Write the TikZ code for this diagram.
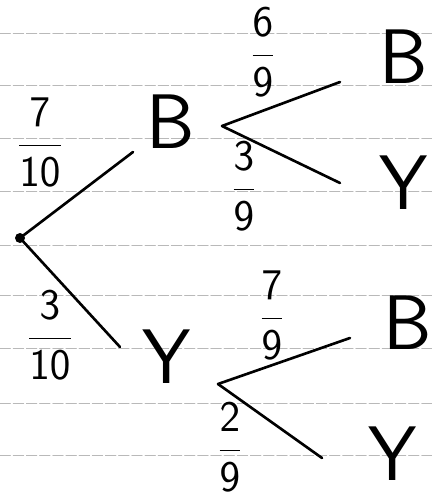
\documentclass[tikz,border=0pt]{standalone}
\usepackage{tikz}
\newcommand{\lett}[1]{\fontsize{44}{44}\selectfont\sffamily #1}
\newcommand{\pr}[2]{\fontsize{24}{24}\selectfont$\displaystyle\frac{\mathsf{#1}}{\mathsf{#2}}$}
\begin{document}
\begin{tikzpicture}[x=0.02cm,y=-0.02cm,line width=1.5pt,line cap=round,inner sep=0.5pt]
			\useasboundingbox (0,0) rectangle (432,497);
			\foreach \yy in {33,85,138,191,245,295,348,403,455}
				\draw[gray!55,line width=0.4pt,dash pattern=on 6pt off 1.5pt] (0,\yy)--(432,\yy);
			\coordinate (r) at (20,238);
			\coordinate (b1) at (133,152);
			\coordinate (y1) at (120,347);
			\coordinate (bv) at (222,126);
			\coordinate (yv) at (218,384);
			\coordinate (bb) at (340,82);
			\coordinate (by) at (340,183);
			\coordinate (yb) at (350,338);
			\coordinate (yy) at (322,458);
			\fill (r) circle (5);
			\draw[] (r)--(b1);
			\draw[] (r)--(y1);
			\draw[] (bv)--(bb);
			\draw[] (bv)--(by);
			\draw[] (yv)--(yb);
			\draw[] (yv)--(yy);
			\node (nb1) at (171,122) {\lett{B}};
			\node (ny1) at (167,357) {\lett{Y}};
			\node (nbb) at (404,57) {\lett{B}};
			\node (nby) at (404,183) {\lett{Y}};
			\node (nyb) at (408,323) {\lett{B}};
			\node (nyy) at (393,454) {\lett{Y}};
			\node (p1) at (40,142) {\pr{7}{10}};
			\node (p2) at (50,335) {\pr{3}{10}};
			\node (p3) at (263,52) {\pr{6}{9}};
			\node (p4) at (244,186) {\pr{3}{9}};
			\node (p5) at (272,315) {\pr{7}{9}};
			\node (p6) at (230,447) {\pr{2}{9}};
		\end{tikzpicture}
\end{document}
